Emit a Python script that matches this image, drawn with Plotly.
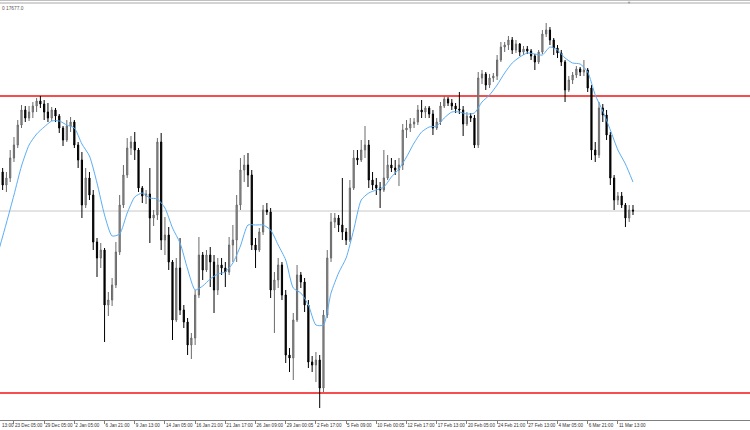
import plotly.graph_objects as go

# ---- data (H4 bars) ----
opens = [17807,17872,17807,17842,17942,18007,18107,18182,18142,18172,
         18202,18227,18212,18172,18142,18182,18152,18092,18032,18102,
         18122,18007,17932,17707,17842,17757,17522,17442,17482,17207,
         17232,17307,17472,17707,17857,17992,18022,17982,17792,17752,
         17762,17642,17657,18022,17532,17557,17422,17132,17392,17182,
         17122,17007,17042,17257,17457,17382,17457,17422,17282,17407,
         17392,17372,17507,17532,17707,17882,17907,17857,17507,17482,
         17572,17682,17672,17282,17332,17407,17257,16957,16942,17132,
         17357,17322,17207,16922,16907,16932,16792,17157,17442,17622,
         17642,17607,17572,17532,17792,17942,17932,17982,18007,17832,
         17807,17792,17782,17842,17907,17892,17882,17907,18082,18092,
         18112,18122,18182,18172,18192,18162,18092,18122,18202,18237,
         18217,18202,18187,18182,18112,18152,18142,18007,18342,18362,
         18307,18342,18352,18432,18497,18507,18532,18482,18512,18472,
         18487,18477,18452,18422,18472,18562,18582,18532,18492,18467,
         18422,18282,18332,18357,18387,18372,18382,18292,17982,17957,
         18192,18157,18057,17842,17732,17752,17707,17642,17682]
highs = [17932,17892,17872,17982,18047,18132,18207,18202,18202,18222,
         18242,18252,18232,18217,18197,18192,18162,18102,18132,18147,
         18132,18022,17972,17892,17872,17782,17542,17517,17492,17272,
         17342,17522,17757,17907,18042,18052,18072,17992,17802,17782,
         17892,17682,18042,18067,17647,17597,17432,17442,17542,17207,
         17142,17067,17282,17547,17472,17482,17497,17457,17442,17442,
         17422,17547,17607,17757,17942,17957,17967,17882,17542,17592,
         17707,17717,17692,17372,17442,17422,17282,16992,17167,17407,
         17372,17342,17232,16952,16972,16957,17182,17482,17667,17667,
         17657,17842,17592,17832,17982,17982,18032,18102,18032,17872,
         17842,17822,17982,17957,17942,17932,17942,18112,18132,18142,
         18142,18207,18232,18202,18202,18182,18142,18222,18252,18247,
         18237,18217,18272,18202,18172,18167,18157,18372,18382,18372,
         18362,18367,18457,18522,18522,18552,18547,18532,18517,18502,
         18502,18487,18462,18482,18582,18617,18597,18542,18507,18482,
         18432,18352,18372,18402,18397,18432,18392,18307,18022,18222,
         18212,18182,18072,17857,17772,17772,17717,17707,17707]
lows = [17772,17782,17772,17822,17922,17992,18092,18122,18127,18142,
        18172,18192,18132,18122,18127,18122,18067,18002,18022,18072,
        17992,17892,17642,17692,17732,17482,17347,17392,17022,17152,
        17202,17292,17457,17692,17842,17957,17932,17772,17717,17712,
        17517,17602,17632,17482,17457,17382,17032,17122,17157,17092,
        16957,16937,17007,17242,17332,17372,17297,17167,17257,17357,
        17297,17357,17422,17422,17682,17822,17797,17482,17392,17472,
        17557,17657,17242,17067,17292,17232,16917,16872,16832,17122,
        17292,17172,16892,16872,16822,16692,16772,17142,17422,17592,
        17572,17532,17507,17522,17782,17907,17922,17942,17792,17782,
        17757,17692,17772,17832,17872,17857,17802,17882,18042,18072,
        18092,18107,18142,18142,18142,18057,18082,18107,18192,18202,
        18182,18167,18162,18052,18102,18122,17992,17992,18312,18282,
        18292,18322,18332,18422,18472,18482,18462,18467,18452,18457,
        18462,18432,18382,18412,18462,18547,18507,18457,18442,18402,
        18222,18272,18312,18342,18352,18352,18272,17932,17922,17942,
        18122,18032,17807,17682,17707,17692,17597,17622,17657]
closes = [17872,17807,17842,17942,18007,18107,18182,18142,18172,18202,
          18227,18212,18172,18142,18182,18152,18092,18032,18102,18122,
          18007,17932,17707,17842,17757,17522,17442,17482,17207,17232,
          17307,17472,17707,17857,17992,18022,17982,17792,17752,17762,
          17642,17657,18022,17532,17557,17422,17132,17392,17182,17122,
          17007,17042,17257,17457,17382,17457,17422,17282,17407,17392,
          17372,17507,17532,17707,17882,17907,17857,17507,17482,17572,
          17682,17672,17282,17332,17407,17257,16957,16942,17132,17357,
          17322,17207,16922,16907,16932,16792,17157,17442,17622,17642,
          17607,17572,17532,17792,17942,17932,17982,18007,17832,17807,
          17792,17782,17842,17907,17892,17882,17907,18082,18092,18112,
          18122,18182,18172,18192,18162,18092,18122,18202,18237,18217,
          18202,18187,18182,18112,18152,18142,18007,18342,18362,18307,
          18342,18352,18432,18497,18507,18532,18482,18512,18472,18487,
          18477,18452,18422,18472,18562,18582,18532,18492,18467,18422,
          18282,18332,18357,18387,18372,18382,18292,17982,17957,18192,
          18157,18057,17842,17732,17752,17707,17642,17682,17677]

# moving average, sampled every second bar
ma_values = [17482,17617,17757,17902,18007,18062,18097,18127,18127,18107,
             18092,18012,17952,17817,17657,17552,17562,17667,17747,17767,
             17742,17737,17692,17592,17517,17387,17282,17302,17337,17362,
             17372,17417,17502,17607,17607,17607,17582,17507,17432,17292,
             17267,17207,17107,17107,17267,17367,17442,17582,17732,17767,
             17782,17797,17847,17887,17947,18017,18072,18097,18102,18142,
             18172,18172,18162,18167,18222,18257,18307,18367,18417,18447,
             18467,18462,18457,18497,18482,18442,18417,18412,18372,18257,
             18177,18082,17982,17912,17822]

tick_labels = ["23 Dec 05:00", "29 Dec 05:00", "2 Jan 05:00", "6 Jan 21:00",
               "9 Jan 13:00", "14 Jan 05:00", "16 Jan 21:00", "21 Jan 17:00",
               "26 Jan 09:00", "29 Jan 00:05", "2 Feb 17:00", "5 Feb 09:00",
               "10 Feb 00:05", "12 Feb 17:00", "17 Feb 13:00", "20 Feb 05:00",
               "24 Feb 21:00", "27 Feb 13:00", "4 Mar 05:00", "6 Mar 21:00",
               "11 Mar 13:00"]

resistance_level = 18252
support_level = 16767
last_price = 17677
header_text = "0 17677.0"

# ---- figure ----
bar_idx = list(range(len(closes)))
ma_idx = list(range(0, len(closes), 2))
tick_idx = [4 + 8 * k for k in range(len(tick_labels))]

fig = go.Figure()
fig.add_trace(go.Candlestick(
    x=bar_idx, open=opens, high=highs, low=lows, close=closes,
    increasing=dict(line=dict(color="#6a6a6a", width=1), fillcolor="#9c9c9c"),
    decreasing=dict(line=dict(color="#000000", width=1), fillcolor="#000000"),
    whiskerwidth=0, hoverinfo="skip", showlegend=False))
fig.add_trace(go.Scatter(
    x=ma_idx, y=ma_values, mode="lines",
    line=dict(color="#5aaef5", width=1, shape="spline", smoothing=0.6),
    hoverinfo="skip", showlegend=False))

shapes = []
for lvl, col, w in [(resistance_level, "rgb(246,78,78)", 1.8),
                    (support_level, "rgb(246,78,78)", 1.8),
                    (last_price, "#c8c8c8", 1)]:
    shapes.append(dict(type="line", xref="paper", yref="y", x0=0, x1=1,
                       y0=lvl, y1=lvl, line=dict(color=col, width=w), layer="below"))
shapes.append(dict(type="line", xref="paper", yref="paper", x0=0, x1=1,
                   y0=1.0, y1=1.0, line=dict(color="#a8a8a8", width=1)))
shapes.append(dict(type="line", xref="paper", yref="paper", x0=0, x1=1,
                   y0=1.0 + 2.5 / 417, y1=1.0 + 2.5 / 417,
                   line=dict(color="#c0c0c0", width=1)))

font_small = dict(family="Liberation Sans", size=4.6, color="#333333")

fig.update_layout(
    width=750, height=430,
    margin=dict(l=0, r=0, t=3, b=10, autoexpand=False),
    paper_bgcolor="white", plot_bgcolor="white",
    hovermode=False, showlegend=False,
    boxgap=0.55,
    shapes=shapes,
    xaxis=dict(range=[0.3, 199], showgrid=False, zeroline=False,
               showline=True, linecolor="#808080", linewidth=1,
               ticks="outside", ticklen=3, tickcolor="#808080",
               tickvals=tick_idx, ticktext=tick_labels, tickangle=0,
               tickfont=font_small, ticklabelposition="outside right",
               automargin=False,
               rangeslider=dict(visible=False), fixedrange=True),
    yaxis=dict(range=[16632, 18717], visible=False, fixedrange=True,
               automargin=False),
    annotations=[
        dict(xref="paper", yref="paper", x=0, y=1, xanchor="left", yanchor="top",
             yshift=-1, text=header_text, showarrow=False,
             font=dict(family="Liberation Sans", size=4.8, color="#555555")),
        dict(xref="paper", yref="paper", x=0, y=0, xanchor="left", yanchor="top",
             yshift=-1, text="13:00", showarrow=False, font=font_small),
        dict(xref="paper", yref="paper", x=629 / 750, y=1, xanchor="center",
             yanchor="middle", yshift=1, text="▼", showarrow=False,
             font=dict(size=4, color="#909090")),
    ],
)

fig.write_html("out.html",
               config={"displayModeBar": False, "staticPlot": True},
               post_script="document.body.style.margin='0';"
                           "document.body.style.overflow='hidden';")
